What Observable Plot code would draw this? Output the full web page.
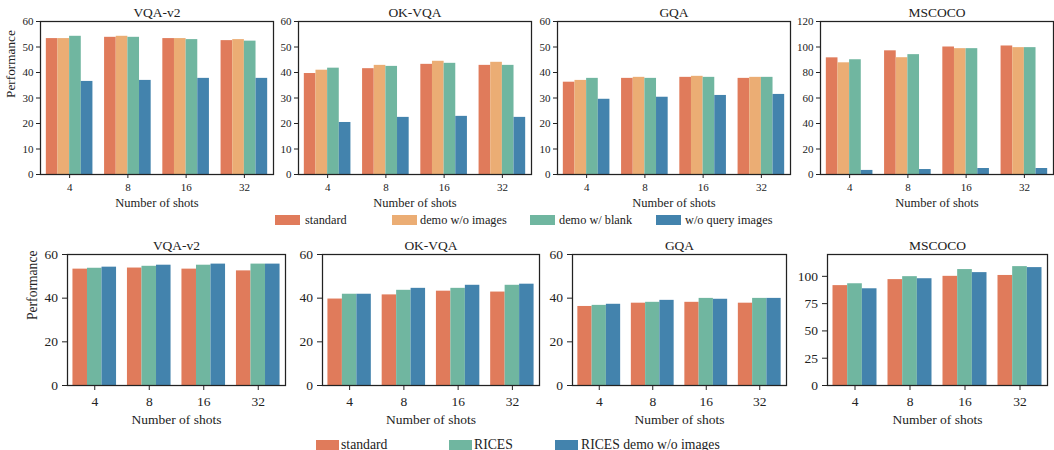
<!DOCTYPE html>
<html>
<head>
<meta charset="utf-8">
<script src="https://cdn.jsdelivr.net/npm/d3@7"></script>
<script src="https://cdn.jsdelivr.net/npm/@observablehq/plot@0.6"></script>
<style>
  body { margin: 0; background: #fff; }
  #fig { position: relative; width: 1054px; height: 450px; overflow: hidden; background: #fff;
         font-family: "Liberation Serif", "Times New Roman", serif; color: #222; }
  #fig svg { position: absolute; max-width: none; }
  .sw { position: absolute; }
  .lt { position: absolute; white-space: nowrap; line-height: 1; }
</style>
</head>
<body>
<div id="fig"></div>
<script>
// Number of in-context examples on the x axis
const shots = ["4", "8", "16", "32"];
const datasets = ["VQA-v2", "OK-VQA", "GQA", "MSCOCO"];

// Series names and colours
const ablationSeries = ["standard", "demo w/o images", "demo w/ blank", "w/o query images"];
const ablationColors = ["#E07B5B", "#EBAD74", "#70B6A0", "#4383AD"];
const ricesSeries = ["standard", "RICES", "RICES demo w/o images"];
const ricesColors = ["#E07B5B", "#70B6A0", "#4383AD"];

// VQA-v2
const vqaStandard = [53.3, 53.8, 53.3, 52.5];
const vqaDemoNoImages = [53.3, 54.2, 53.3, 52.9];
const vqaDemoBlank = [54.2, 53.8, 52.9, 52.3];
const vqaNoQueryImages = [36.5, 36.9, 37.7, 37.7];
const vqaRices = [53.7, 54.6, 55.1, 55.6];
const vqaRicesDemoNoImages = [54.2, 55.1, 55.6, 55.6];

// OK-VQA
const okvqaStandard = [39.6, 41.5, 43.2, 42.8];
const okvqaDemoNoImages = [40.9, 42.8, 44.4, 44.0];
const okvqaDemoBlank = [41.7, 42.4, 43.6, 42.8];
const okvqaNoQueryImages = [20.4, 22.4, 22.8, 22.4];
const okvqaRices = [41.8, 43.6, 44.5, 45.9];
const okvqaRicesDemoNoImages = [41.8, 44.5, 45.9, 46.4];

// GQA
const gqaStandard = [36.2, 37.7, 38.1, 37.7];
const gqaDemoNoImages = [36.9, 38.1, 38.5, 38.1];
const gqaDemoBlank = [37.7, 37.7, 38.1, 38.1];
const gqaNoQueryImages = [29.5, 30.3, 31.0, 31.4];
const gqaRices = [36.7, 38.1, 39.9, 39.9];
const gqaRicesDemoNoImages = [37.2, 39.0, 39.5, 39.9];

// MSCOCO (CIDEr)
const cocoStandard = [91.5, 97.0, 100.0, 100.8];
const cocoDemoNoImages = [87.6, 91.6, 98.7, 99.5];
const cocoDemoBlank = [90.0, 94.0, 98.7, 99.5];
const cocoNoQueryImages = [3.2, 3.9, 4.7, 4.7];
const cocoRices = [93.2, 99.7, 106.2, 108.9];
const cocoRicesDemoNoImages = [88.6, 97.8, 103.4, 108.0];

// Y ticks
const accTicksTop = [0, 10, 20, 30, 40, 50, 60];
const cocoTicksTop = [0, 20, 40, 60, 80, 100, 120];
const accTicksBottom = [0, 20, 40, 60];
const cocoTicksBottom = [0, 25, 50, 75, 100];

const fig = document.getElementById("fig");
const FONT = "Liberation Serif, Times New Roman, serif";
const INK = "#222";

function panel(cfg) {
  const n = cfg.series.length;
  const w = 0.8 / n;
  const rows = [];
  cfg.values.forEach((vals, j) => vals.forEach((v, i) => rows.push({i, j, key: cfg.series[j], value: v})));
  const frameW = cfg.frameRight - cfg.frameLeft;
  const plot = Plot.plot({
    width: cfg.ml + frameW + cfg.mr,
    height: cfg.mt + cfg.frameH + cfg.mb,
    marginLeft: cfg.ml, marginRight: cfg.mr, marginTop: cfg.mt, marginBottom: cfg.mb,
    x: {type: "linear", domain: [-0.5, 3.5]},
    y: {type: "linear", domain: cfg.yDomain},
    color: {domain: cfg.series, range: cfg.colors},
    style: {background: "transparent", fontFamily: FONT, fontSize: cfg.tickFont + "px", color: INK, overflow: "visible"},
    marks: [
      Plot.rectY(rows, {
        x1: d => d.i - 0.4 + d.j * w,
        x2: d => d.i - 0.4 + (d.j + 1) * w,
        y: "value",
        fill: "key"
      }),
      Plot.axisX({ticks: [0, 1, 2, 3], tickFormat: i => shots[i], tickSize: cfg.tickSize, tickPadding: cfg.tickPadX,
                  label: null, stroke: INK, fontSize: cfg.tickFont}),
      Plot.axisY({ticks: cfg.yTicks, tickSize: cfg.tickSize, tickPadding: cfg.tickPadY,
                  label: null, stroke: INK, fontSize: cfg.tickFont}),
      Plot.frame({stroke: INK, strokeWidth: 1.25}),
      Plot.text([cfg.title], {frameAnchor: "top", lineAnchor: "middle", dy: cfg.titleDy, fontSize: cfg.titleFont, fill: INK}),
      Plot.text(["Number of shots"], {frameAnchor: "bottom", lineAnchor: "middle", dy: cfg.xLabelDy, fontSize: cfg.xLabelFont, fill: INK}),
      cfg.yLabel ? Plot.text(["Performance"], {frameAnchor: "left", lineAnchor: "middle", dx: cfg.yLabelDx, rotate: -90, fontSize: cfg.yLabelFont, fill: INK}) : null
    ]
  });
  plot.style.left = (cfg.frameLeft - cfg.ml) + "px";
  plot.style.top = cfg.svgTop + "px";
  fig.appendChild(plot);
}

function legend(items, colors, swatches, texts, top, swW, swH, font, textTop) {
  items.forEach((name, k) => {
    const s = document.createElement("div");
    s.className = "sw";
    s.style.cssText = `left:${swatches[k]}px;top:${top}px;width:${swW}px;height:${swH}px;background:${colors[k]}`;
    fig.appendChild(s);
    const t = document.createElement("div");
    t.className = "lt";
    t.textContent = name;
    t.style.cssText = `left:${texts[k]}px;top:${textTop}px;font-size:${font}px;color:${INK}`;
    fig.appendChild(t);
  });
}

// Top row: ablation of demonstration / query images
const topValues = [
  [vqaStandard, vqaDemoNoImages, vqaDemoBlank, vqaNoQueryImages],
  [okvqaStandard, okvqaDemoNoImages, okvqaDemoBlank, okvqaNoQueryImages],
  [gqaStandard, gqaDemoNoImages, gqaDemoBlank, gqaNoQueryImages],
  [cocoStandard, cocoDemoNoImages, cocoDemoBlank, cocoNoQueryImages]
];
const topLefts = [40, 298, 557, 820];
datasets.forEach((name, k) => {
  const coco = name === "MSCOCO";
  panel({
    title: name, series: ablationSeries, colors: ablationColors, values: topValues[k],
    yDomain: coco ? [0, 120] : [0, 60], yTicks: coco ? cocoTicksTop : accTicksTop,
    frameLeft: topLefts[k], frameRight: topLefts[k] + 233, frameH: 153, svgTop: 0,
    ml: k === 0 ? 40 : 30, mr: 1, mt: 21, mb: 36,
    tickFont: 11, tickSize: 4, tickPadX: 5, tickPadY: 3,
    titleFont: 13.5, titleDy: -8.8, xLabelFont: 12.5, xLabelDy: 28, yLabelFont: 13.3, yLabelDx: -29.3,
    yLabel: k === 0
  });
});
legend(ablationSeries, ablationColors, [275, 392, 530, 656], [305, 420, 559, 685], 215, 25, 10, 12.3, 213.5);

// Bottom row: retrieval-based in-context example selection
const bottomValues = [
  [vqaStandard, vqaRices, vqaRicesDemoNoImages],
  [okvqaStandard, okvqaRices, okvqaRicesDemoNoImages],
  [gqaStandard, gqaRices, gqaRicesDemoNoImages],
  [cocoStandard, cocoRices, cocoRicesDemoNoImages]
];
const bottomLefts = [67, 322, 572, 827];
const bottomRights = [285, 539, 786, 1047];
datasets.forEach((name, k) => {
  const coco = name === "MSCOCO";
  panel({
    title: name, series: ricesSeries, colors: ricesColors, values: bottomValues[k],
    yDomain: coco ? [0, 120] : [0, 60], yTicks: coco ? cocoTicksBottom : accTicksBottom,
    frameLeft: bottomLefts[k], frameRight: bottomRights[k], frameH: 131, svgTop: 230,
    ml: k === 0 ? 67 : 32, mr: 2, mt: 24, mb: 40,
    tickFont: 13.5, tickSize: 5, tickPadX: 6, tickPadY: 4.5,
    titleFont: 13.5, titleDy: -9.3, xLabelFont: 13.5, xLabelDy: 33.7, yLabelFont: 13.6, yLabelDx: -34.8,
    yLabel: k === 0
  });
});
legend(ricesSeries, ricesColors, [316, 449, 555], [341, 474, 581], 440, 23, 11, 13.7, 437.5);
</script>
</body>
</html>
